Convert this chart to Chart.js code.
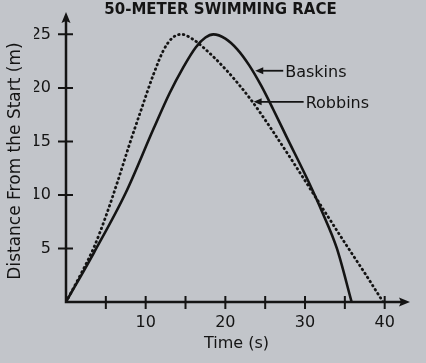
<!DOCTYPE html>
<html><head><meta charset="utf-8">
<script src="https://cdn.jsdelivr.net/npm/chart.js@4.4.0/dist/chart.umd.min.js"></script>
<style>html,body{margin:0;padding:0;background:#c2c5ca;overflow:hidden}#wrap{width:426px;height:363px}</style>
</head><body><div id="wrap"><canvas id="c" width="426" height="363"></canvas></div>
<script>
const chartTitle = '50-METER SWIMMING RACE';
const xTitle = 'Time (s)';
const yTitle = 'Distance From the Start (m)';
const seriesNames = ['Baskins', 'Robbins'];
const baskinsTime = [0, 3.5, 7.5, 11.0, 13.0, 14.7, 16.3, 17.5, 18.5, 20.0, 21.5, 23.0, 24.5, 26.0, 27.7, 30.4, 32.1, 34.0, 35.85];
const baskinsDist = [0, 4.6, 10.2, 16.2, 19.5, 21.9, 23.8, 24.7, 25.0, 24.6, 23.6, 22.1, 20.2, 18.0, 15.4, 11.3, 8.5, 5.0, 0];
const robbinsTime = [0, 2.0, 3.5, 5.0, 6.5, 8.0, 9.5, 11.0, 12.3, 13.4, 14.5, 15.8, 17.2, 20.2, 23.2, 26.0, 29.0, 32.0, 35.2, 37.5, 39.8];
const robbinsDist = [0, 2.8, 5.1, 8.0, 11.3, 14.8, 18.1, 21.3, 23.6, 24.7, 25.0, 24.6, 23.8, 21.6, 18.9, 15.9, 12.5, 9.0, 5.3, 2.7, 0];
const xTickValues = [5, 10, 15, 20, 25, 30, 35, 40];
const xTickLabels = ['', '10', '', '20', '', '30', '', '40'];
const yTickValues = [5, 10, 15, 20, 25];
const yTickLabels = ['5', '10', '15', '20', '25'];
const calloutTime = [23.5, 23.3];
const calloutDist = [21.6, 18.7];
const yArrowValue = 26.8;

const INK = '#141414';
const FONT = "'DejaVu Sans', sans-serif";

function pts(t, d) { return t.map((v, i) => ({x: v, y: d[i]})); }

const axesPlugin = {
  id: 'axesPlugin',
  afterDatasetsDraw(chart) {
    const ctx = chart.ctx;
    const xs = chart.scales.x, ys = chart.scales.y;
    const x0 = xs.getPixelForValue(0), y0 = ys.getPixelForValue(0);
    const xEnd = xs.getPixelForValue(xs.max), yEnd = ys.getPixelForValue(yArrowValue);
    ctx.save();
    ctx.strokeStyle = INK; ctx.fillStyle = INK; ctx.lineWidth = 2.5; ctx.lineCap = 'butt';
    ctx.beginPath();
    ctx.moveTo(x0, y0); ctx.lineTo(xEnd - 4, y0);
    ctx.moveTo(x0, y0 + 1.2); ctx.lineTo(x0, yEnd + 4);
    ctx.stroke();
    ctx.beginPath();
    ctx.moveTo(xEnd + 3, y0); ctx.lineTo(xEnd - 8, y0 - 4.5); ctx.lineTo(xEnd - 6, y0); ctx.lineTo(xEnd - 8, y0 + 4.5); ctx.closePath(); ctx.fill();
    ctx.beginPath();
    ctx.moveTo(x0, yEnd - 3); ctx.lineTo(x0 - 4.5, yEnd + 8); ctx.lineTo(x0, yEnd + 6); ctx.lineTo(x0 + 4.5, yEnd + 8); ctx.closePath(); ctx.fill();
    ctx.lineWidth = 2;
    ctx.beginPath();
    xTickValues.forEach(v => { const p = xs.getPixelForValue(v); ctx.moveTo(p, y0 - 6); ctx.lineTo(p, y0 + 7); });
    yTickValues.forEach(v => { const p = ys.getPixelForValue(v); ctx.moveTo(x0 - 8, p); ctx.lineTo(x0 + 7, p); });
    ctx.stroke();
    const textOffsets = [30, 52];
    ctx.font = '16px ' + FONT; ctx.textBaseline = 'middle'; ctx.textAlign = 'left';
    seriesNames.forEach((name, i) => {
      const tx = xs.getPixelForValue(calloutTime[i]) + 2, ty = ys.getPixelForValue(calloutDist[i]);
      ctx.lineWidth = 1.8;
      ctx.beginPath(); ctx.moveTo(tx + 4, ty); ctx.lineTo(tx + textOffsets[i] - 2, ty); ctx.stroke();
      ctx.beginPath(); ctx.moveTo(tx, ty); ctx.lineTo(tx + 8, ty - 3.5); ctx.lineTo(tx + 8, ty + 3.5); ctx.closePath(); ctx.fill();
      ctx.fillText(name, tx + textOffsets[i], ty + 2);
    });
    ctx.restore();
  }
};

new Chart(document.getElementById('c'), {
  type: 'scatter',
  data: {
    datasets: [
      { label: seriesNames[0], data: pts(baskinsTime, baskinsDist), showLine: true, borderColor: INK, borderWidth: 2.6,
        pointRadius: 0, cubicInterpolationMode: 'monotone', fill: false },
      { label: seriesNames[1], data: pts(robbinsTime, robbinsDist), showLine: true, borderColor: INK, borderWidth: 2.8,
        borderDash: [0.6, 4.2], borderCapStyle: 'round', pointRadius: 0, cubicInterpolationMode: 'monotone', fill: false }
    ]
  },
  options: {
    responsive: false, animation: false, devicePixelRatio: 1,
    layout: { padding: { top: 0, right: 19, bottom: 0, left: 34 } },
    plugins: {
      legend: { display: false }, tooltip: { enabled: false },
      title: { display: true, text: chartTitle, color: INK, font: { family: FONT, size: 15, weight: 'bold', lineHeight: 1.2 }, padding: { top: 1, bottom: 1 } }
    },
    scales: {
      x: { type: 'linear', min: 0, max: 42.8, grid: { display: false }, border: { display: false },
        afterFit(s) { s.height = 61; },
        ticks: { stepSize: 5, includeBounds: false, autoSkip: false, maxRotation: 0, color: INK, padding: 3,
          font: { family: FONT, size: 16 },
          callback: v => { const i = xTickValues.indexOf(v); return i >= 0 ? xTickLabels[i] : ''; } },
        title: { display: true, text: xTitle, color: INK, font: { family: FONT, size: 16, lineHeight: 1.2 }, padding: { top: 0, bottom: 10 } } },
      y: { type: 'linear', min: 0, max: 26.34, grid: { display: false }, border: { display: false },
        afterFit(s) { s.width = 32; },
        ticks: { stepSize: 5, includeBounds: false, color: INK, padding: 7, font: { family: FONT, size: 16 },
          callback: v => { const i = yTickValues.indexOf(v); return i >= 0 ? yTickLabels[i] : ''; } },
        title: { display: true, text: yTitle, color: INK, font: { family: FONT, size: 17, lineHeight: 1.2 }, padding: { top: -29, bottom: 0 } } }
    }
  },
  plugins: [axesPlugin]
});
</script></body></html>
